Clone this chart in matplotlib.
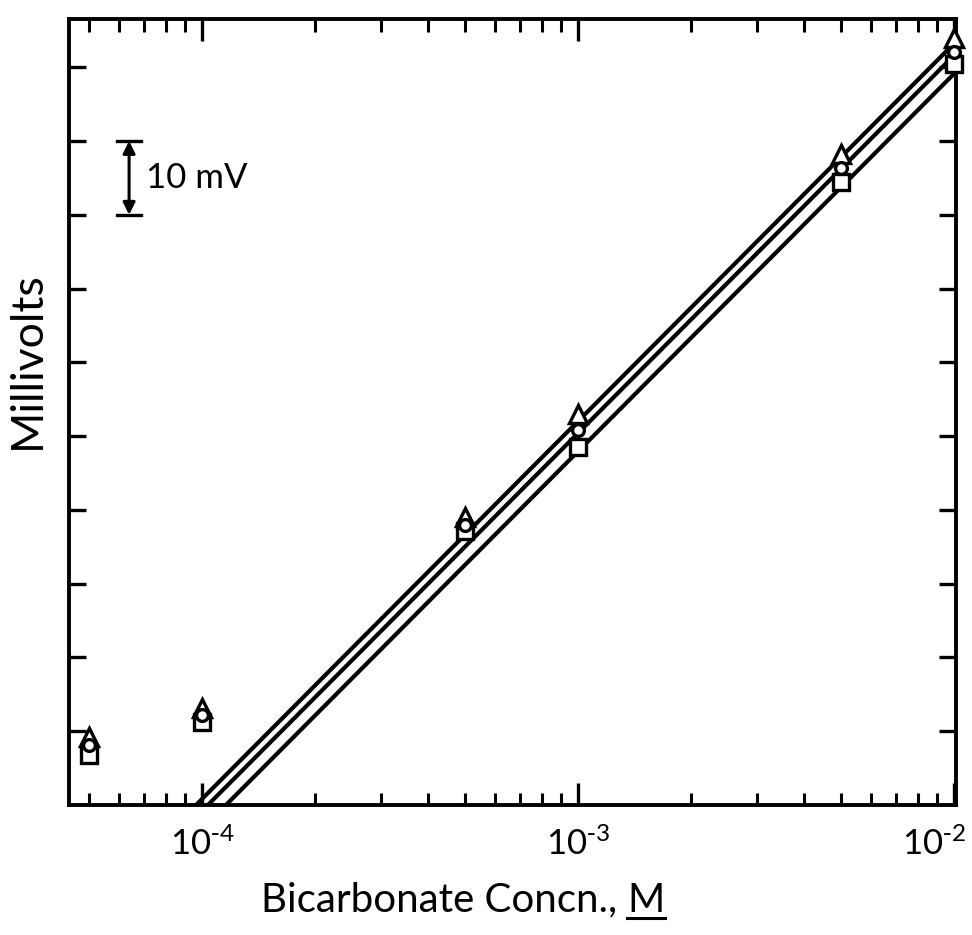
import matplotlib
matplotlib.use("Agg")
import matplotlib.pyplot as plt
import matplotlib.transforms as mtransforms
from matplotlib.ticker import LogLocator, NullFormatter, FixedLocator
from matplotlib.lines import Line2D

plt.rcParams['font.family'] = ['Lato', 'DejaVu Sans']
plt.rcParams['mathtext.default'] = 'regular'
plt.rcParams['axes.unicode_minus'] = False

# ---- data ----
conc = [5e-5, 1e-4, 5e-4, 1e-3, 5e-3, 1e-2]           # M
mv_triangle = [9.2, 13.1, 39.0, 53.0, 88.3, 104.0]     # mV (relative)
mv_circle = [8.2, 12.2, 37.9, 50.8, 86.3, 102.0]
mv_square = [6.8, 11.3, 37.2, 48.5, 84.5, 100.4]

# three fitted straight lines (end points)
line_x = [[9.64e-5, 1e-2], [1.037e-4, 1e-2], [1.158e-4, 1e-2]]
line_y = [[0.0, 103.2], [0.0, 101.6], [0.0, 99.1]]

x_major = [1e-4, 1e-3, 1e-2]
x_major_labels = [r'$10^{\text{-}4}$', r'$10^{\text{-}3}$', r'$10^{\text{-}2}$']
y_ticks = [10, 20, 30, 40, 50, 60, 70, 80, 90, 100]

xlim = (4.43e-5, 1.01e-2)
ylim = (0, 106.6)

# scale bar (10 mV)
bar_x = 6.4e-5
bar_y = (80, 90)
bar_text = '10 mV'

fig = plt.figure(figsize=(9.72, 9.35), dpi=100)
ax = fig.add_axes([0.0710, 0.1390, 0.9831 - 0.0710, 0.9802 - 0.1390])
ax.set_xscale('log')
ax.set_xlim(*xlim)
ax.set_ylim(*ylim)

for lx, ly in zip(line_x, line_y):
    ax.plot(lx, ly, color='black', lw=3.0, solid_capstyle='butt', zorder=2)

mk = dict(linestyle='none', markerfacecolor='white', markeredgecolor='black',
          markeredgewidth=2.4, clip_on=False)
ax.plot(conc, mv_triangle, marker='^', markersize=12.5, zorder=3, **mk)
ax.plot(conc, mv_square, marker='s', markersize=11, zorder=4, **mk)
ax.plot(conc, mv_circle, marker='o', markersize=8.5, zorder=5, **mk)

# ticks
ax.xaxis.set_major_locator(FixedLocator(x_major))
ax.set_xticklabels(x_major_labels)
ax.xaxis.set_minor_locator(LogLocator(base=10, subs=range(2, 10)))
ax.xaxis.set_minor_formatter(NullFormatter())
ax.set_yticks(y_ticks)
ax.set_yticklabels([])
ax.tick_params(axis='x', which='major', direction='in', length=16, width=2.4,
               top=True, bottom=True, labelsize=25, pad=16)
ax.tick_params(axis='x', which='minor', direction='in', length=9, width=2.2,
               top=True, bottom=True)
ax.tick_params(axis='y', which='major', direction='in', length=12, width=2.4,
               left=True, right=True)
for s in ax.spines.values():
    s.set_linewidth(2.8)

# shift the last tick label left so it stays inside the figure
lbls = ax.get_xticklabels()
off = mtransforms.ScaledTranslation(-20 / 100, 0, fig.dpi_scale_trans)
lbls[-1].set_transform(lbls[-1].get_transform() + off)

# scale bar
ax.annotate('', xy=(bar_x, bar_y[1]), xytext=(bar_x, bar_y[0]),
            arrowprops=dict(arrowstyle='<|-|>', color='black', lw=2.2,
                            mutation_scale=18, shrinkA=0, shrinkB=0))
for yy in bar_y:
    ax.plot([bar_x * 0.93, bar_x * 1.075], [yy, yy], color='black', lw=2.4)
ax.text(bar_x * 1.11, sum(bar_y) / 2, bar_text, fontsize=25, va='center', ha='left')

# axis labels
ax.set_ylabel('Millivolts', fontsize=32)
ax.yaxis.set_label_coords(-0.024, 0.566)
base = 0.025
xl = fig.text(0.457, base, 'Bicarbonate Concn., ', fontsize=29, ha='center', va='baseline')
fig.canvas.draw()
r = fig.canvas.get_renderer()
bb = xl.get_window_extent(r)
m = fig.text(bb.x1 / fig.bbox.width, base, 'M', fontsize=29, ha='left', va='baseline')
fig.canvas.draw()
mb = m.get_window_extent(r)
uy = (base * fig.bbox.height - 6) / fig.bbox.height
fig.add_artist(Line2D([mb.x0 / fig.bbox.width, mb.x1 / fig.bbox.width], [uy, uy],
                      color='black', lw=2.2, transform=fig.transFigure))

fig.savefig('out.png', dpi=100)
